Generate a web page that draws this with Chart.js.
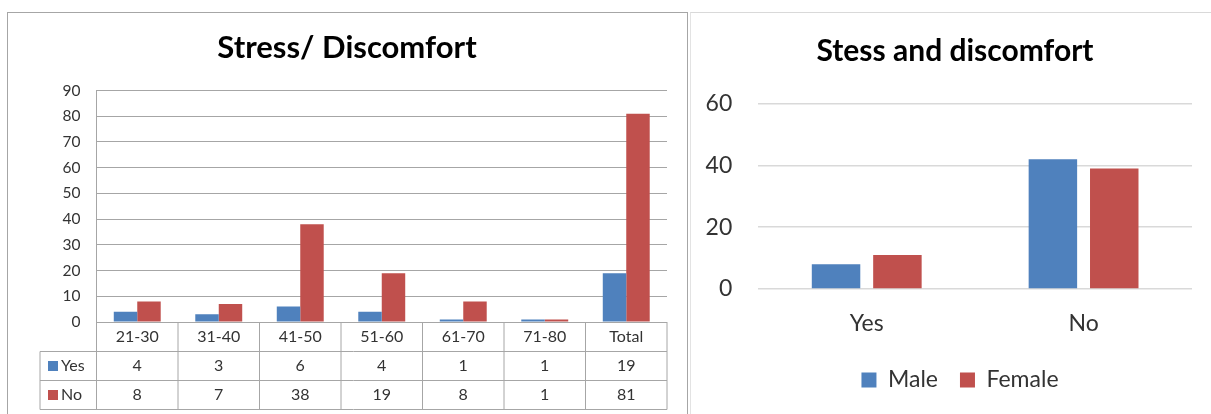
<!DOCTYPE html>
<html><head><meta charset="utf-8">
<script src="https://cdn.jsdelivr.net/npm/chart.js@4.4.1/dist/chart.umd.min.js"></script>
<style>
html,body{margin:0;padding:0;background:#fff;width:1211px;height:414px;overflow:hidden;font-family:Lato,sans-serif;}
#w1{position:absolute;left:0;top:0;width:688px;height:414px;}
#w2{position:absolute;left:690px;top:0;width:521px;height:414px;}
.bl{position:absolute;box-sizing:border-box;pointer-events:none;}
</style></head><body>
<div id="w1"><canvas id="c1"></canvas></div>
<div id="w2"><canvas id="c2"></canvas></div>
<div class="bl" style="left:7px;top:12px;width:681px;height:402px;border:1px solid #a6a6a6;border-bottom:none;"></div>
<div class="bl" style="left:690px;top:12px;width:521px;height:402px;border-top:1px solid #d9d9d9;border-left:1px solid #e3e3e3;"></div>
<script>
// ---- data: left chart (by age group) ----
const ageGroups = ['21-30','31-40','41-50','51-60','61-70','71-80','Total'];
const yesByAge = [4, 3, 6, 4, 1, 1, 19];
const noByAge = [8, 7, 38, 19, 8, 1, 81];
const ageSeriesNames = ['Yes', 'No'];
const ageAxisMax = 90;
const ageAxisStep = 10;

// ---- data: right chart (by gender) ----
const answerCategories = ['Yes', 'No'];
const maleValues = [8, 42];
const femaleValues = [11, 39];
const genderSeriesNames = ['Male', 'Female'];
const genderAxisMax = 60;
const genderAxisStep = 20;

const BLUE = '#4F81BD';
const RED = '#C0504D';
const FONT = 'Lato';

const tablePlugin = {
  id: 'dataTable',
  afterDraw(chart) {
    const {ctx, chartArea: ca, scales: {x}} = chart;
    const n = chart.data.labels.length;
    const half = (x.getPixelForValue(1) - x.getPixelForValue(0)) / 2;
    const rowH = 29.1;
    const top = ca.bottom;
    const legendLeft = ca.left - 56.5;
    ctx.save();
    ctx.strokeStyle = '#a6a6a6';
    ctx.lineWidth = 1;
    const line = (x1, y1, x2, y2) => { ctx.beginPath(); ctx.moveTo(x1, y1); ctx.lineTo(x2, y2); ctx.stroke(); };
    for (let r = 1; r <= 3; r++) {
      const y = Math.round(top + r * rowH) + 0.5;
      line(legendLeft, y, ca.right, y);
    }
    const bottom = Math.round(top + 3 * rowH) + 0.5;
    for (let i = 0; i <= n; i++) {
      const bx = i < n ? x.getPixelForValue(i) - half : x.getPixelForValue(n - 1) + half;
      line(bx, top, bx, bottom);
    }
    line(legendLeft, Math.round(top + rowH) + 0.5, legendLeft, bottom);
    ctx.font = '16px ' + FONT;
    ctx.fillStyle = '#333';
    ctx.textBaseline = 'middle';
    ctx.textAlign = 'center';
    chart.data.labels.forEach((lab, i) => {
      ctx.fillText(lab, x.getPixelForValue(i), top + rowH / 2 + 0.5);
    });
    chart.data.datasets.forEach((ds, r) => {
      const cy = top + rowH * (r + 1.5) + 0.5;
      ds.data.forEach((v, i) => {
        ctx.fillText(String(v), x.getPixelForValue(i), cy);
      });
      ctx.fillStyle = ds.backgroundColor;
      ctx.fillRect(legendLeft + 8, Math.round(cy - 5), 10, 10);
      ctx.fillStyle = '#333';
      ctx.textAlign = 'left';
      ctx.fillText(ds.label, legendLeft + 21, cy);
      ctx.textAlign = 'center';
    });
    ctx.restore();
  }
};

// shifts the centred title/legend blocks of the right chart to line up with the reference
const shiftBlocksPlugin = {
  id: 'shiftBlocks',
  afterLayout(chart) {
    if (chart.titleBlock) chart.titleBlock.left = 28;
    if (chart.legend) chart.legend.left = 38;
  }
};

new Chart(document.getElementById('c1'), {
  type: 'bar',
  data: {
    labels: ageGroups,
    datasets: [
      {label: ageSeriesNames[0], data: yesByAge, backgroundColor: BLUE},
      {label: ageSeriesNames[1], data: noByAge, backgroundColor: RED}
    ]
  },
  options: {
    responsive: true, maintainAspectRatio: false, animation: false,
    layout: {padding: {left: 27, right: 21, top: 0, bottom: 0}},
    datasets: {bar: {categoryPercentage: 0.576, barPercentage: 1}},
    plugins: {
      legend: {display: false},
      tooltip: {enabled: false},
      title: {display: true, text: 'Stress/ Discomfort', color: '#000',
        font: {family: FONT, size: 31, weight: 'bold'}, padding: {top: 29.5, bottom: 23.8}}
    },
    scales: {
      x: {grid: {display: false, drawTicks: false}, border: {display: false}, ticks: {display: false},
        afterFit: s => { s.height = 92; }},
      y: {min: 0, max: ageAxisMax,
        ticks: {stepSize: ageAxisStep, padding: 16, color: '#333', font: {family: FONT, size: 15.5}},
        grid: {color: '#a6a6a6', drawTicks: false}, border: {color: '#a6a6a6'},
        afterFit: s => { s.width = 69.5; }}
    }
  },
  plugins: [tablePlugin]
});

new Chart(document.getElementById('c2'), {
  type: 'bar',
  data: {
    labels: answerCategories,
    datasets: [
      {label: genderSeriesNames[0], data: maleValues, backgroundColor: BLUE},
      {label: genderSeriesNames[1], data: femaleValues, backgroundColor: RED}
    ]
  },
  options: {
    responsive: true, maintainAspectRatio: false, animation: false,
    layout: {padding: {left: 0, right: 19, top: 0, bottom: 12.5}},
    datasets: {bar: {categoryPercentage: 0.566, barPercentage: 0.79}},
    plugins: {
      tooltip: {enabled: false},
      title: {display: true, text: 'Stess and discomfort', color: '#000',
        font: {family: FONT, size: 30, weight: 'bold'}, padding: {top: 33.4, bottom: 34.3}},
      legend: {position: 'bottom',
        labels: {boxWidth: 15, boxHeight: 15, padding: 22, color: '#333', font: {family: FONT, size: 23}}}
    },
    scales: {
      x: {grid: {display: false, drawTicks: false}, border: {display: false},
        ticks: {padding: 21, color: '#333', font: {family: FONT, size: 23}},
        afterFit: s => { s.height = 57.5; }},
      y: {min: 0, max: genderAxisMax,
        ticks: {stepSize: genderAxisStep, padding: 26, color: '#333', font: {family: FONT, size: 23}},
        grid: {color: '#d9d9d9', lineWidth: 1.5, drawTicks: false}, border: {display: false},
        afterFit: s => { s.width = 68.3; }}
    }
  },
  plugins: [shiftBlocksPlugin]
});
</script>
</body></html>
